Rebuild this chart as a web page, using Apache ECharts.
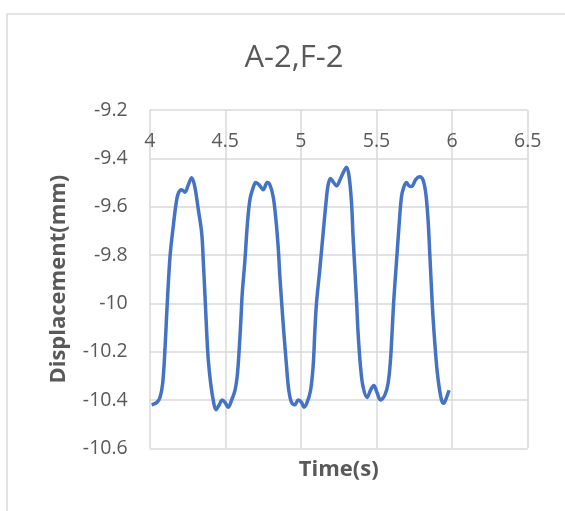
<!DOCTYPE html>
<html><head><meta charset="utf-8">
<script src="https://cdn.jsdelivr.net/npm/echarts@6/dist/echarts.min.js"></script>
<style>html,body{margin:0;padding:0;background:#fff}#c{width:565px;height:511px}</style>
</head><body><div id="c"></div>
<script>
const titleText = 'A-2,F-2';
const xName = 'Time(s)';
const yName = 'Displacement(mm)';
const timeS = [4.013,4.048,4.068,4.086,4.101,4.112,4.134,4.156,4.174,4.189,4.211,4.233,4.255,4.278,4.299,4.321,4.344,4.354,4.365,4.377,4.387,4.403,4.420,4.438,4.460,4.480,4.498,4.519,4.542,4.564,4.579,4.592,4.603,4.612,4.630,4.645,4.663,4.685,4.702,4.724,4.751,4.777,4.795,4.817,4.835,4.850,4.861,4.872,4.887,4.905,4.920,4.938,4.960,4.982,5.004,5.020,5.041,5.064,5.081,5.092,5.103,5.125,5.147,5.165,5.180,5.196,5.213,5.236,5.258,5.279,5.302,5.319,5.335,5.345,5.357,5.368,5.378,5.394,5.411,5.438,5.460,5.482,5.504,5.526,5.555,5.577,5.593,5.603,5.614,5.632,5.649,5.665,5.680,5.698,5.720,5.738,5.760,5.786,5.808,5.826,5.841,5.852,5.863,5.874,5.890,5.901,5.914,5.930,5.945,5.963,5.980];
const dispMm = [-10.42,-10.41,-10.39,-10.33,-10.19,-10.05,-9.81,-9.68,-9.59,-9.545,-9.53,-9.54,-9.51,-9.48,-9.52,-9.61,-9.71,-9.82,-9.96,-10.12,-10.23,-10.33,-10.40,-10.44,-10.42,-10.40,-10.41,-10.43,-10.40,-10.36,-10.30,-10.19,-10.07,-9.96,-9.82,-9.68,-9.57,-9.52,-9.50,-9.51,-9.53,-9.50,-9.51,-9.56,-9.655,-9.77,-9.89,-9.99,-10.12,-10.26,-10.36,-10.41,-10.42,-10.40,-10.41,-10.43,-10.41,-10.36,-10.26,-10.12,-10.00,-9.86,-9.71,-9.59,-9.51,-9.483,-9.497,-9.514,-9.49,-9.46,-9.437,-9.476,-9.586,-9.724,-9.862,-9.99,-10.12,-10.26,-10.345,-10.39,-10.36,-10.34,-10.37,-10.40,-10.38,-10.33,-10.23,-10.12,-9.99,-9.83,-9.68,-9.56,-9.52,-9.50,-9.517,-9.514,-9.487,-9.476,-9.49,-9.545,-9.655,-9.79,-9.93,-10.06,-10.20,-10.28,-10.345,-10.40,-10.414,-10.39,-10.36];
const xTicks = {min: 4, max: 6.5, interval: 0.5};
const yTicks = {min: -10.6, max: -9.2, interval: 0.2};

const seriesData = timeS.map((t, i) => [t, dispMm[i]]);
const font = '"Open Sans", "Noto Sans", sans-serif';
const grey = '#d9d9d9';
const txt = '#595959';
const chart = echarts.init(document.getElementById('c'), null, {renderer: 'canvas'});
chart.setOption({
  animation: false,
  backgroundColor: '#fff',
  graphic: [{type: 'rect', shape: {x: 7, y: 14, width: 700, height: 700}, style: {fill: 'none', stroke: grey, lineWidth: 1.5}, silent: true}],
  title: {text: titleText, left: 289, top: 38, textAlign: 'center',
    textStyle: {fontFamily: font, fontSize: 31, fontWeight: 'normal', color: txt}},
  grid: {left: 149.7, right: 565 - 527.7, top: 110, bottom: 511 - 448.3, containLabel: false},
  xAxis: [{
    type: 'value', position: 'top', min: xTicks.min, max: xTicks.max, interval: xTicks.interval,
    axisLine: {show: false}, axisTick: {show: false},
    axisLabel: {inside: true, margin: 21, fontFamily: font, fontSize: 19.5, color: txt,
      formatter: v => String(+v.toFixed(1))},
    splitLine: {show: true, lineStyle: {color: grey, width: 1.5}}
  }, {
    type: 'value', position: 'bottom', min: xTicks.min, max: xTicks.max,
    axisLine: {show: false}, axisTick: {show: false}, axisLabel: {show: false}, splitLine: {show: false},
    name: xName, nameLocation: 'middle', nameGap: 10,
    nameTextStyle: {fontFamily: font, fontSize: 22, fontWeight: 'bold', color: txt}
  }],
  yAxis: {
    type: 'value', min: yTicks.min, max: yTicks.max, interval: yTicks.interval,
    axisLine: {show: false}, axisTick: {show: false},
    axisLabel: {margin: 22, fontFamily: font, fontSize: 19.5, color: txt,
      formatter: v => String(+v.toFixed(1))},
    splitLine: {show: true, lineStyle: {color: grey, width: 1.5}},
    name: yName, nameLocation: 'middle', nameGap: 80, nameRotate: 90,
    nameTextStyle: {fontFamily: font, fontSize: 22, fontWeight: 'bold', color: txt}
  },
  series: [{
    type: 'line', xAxisIndex: 0, data: seriesData, showSymbol: false, smooth: 0.35,
    lineStyle: {color: '#4472C4', width: 3.5}, clip: false
  }]
});
</script></body></html>
